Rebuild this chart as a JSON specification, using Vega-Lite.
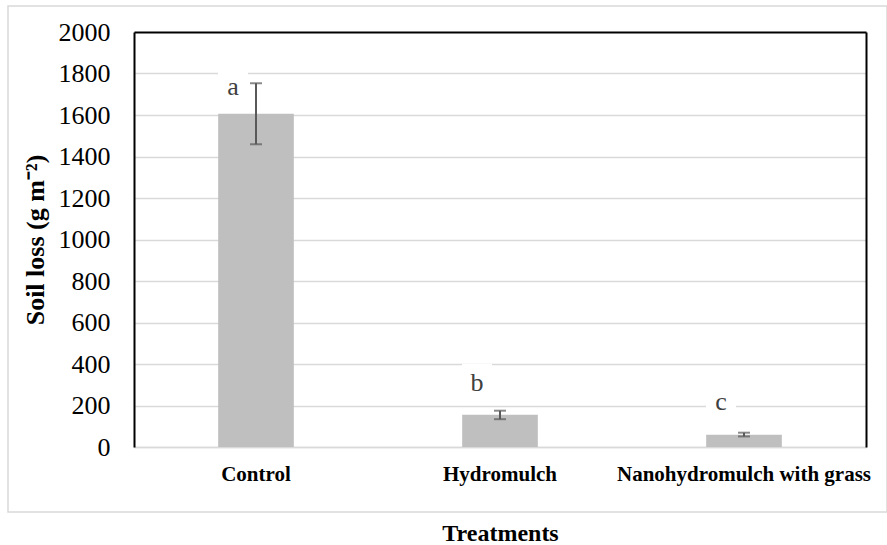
{
  "$schema": "https://vega.github.io/schema/vega-lite/v6.json",
  "width": 879,
  "height": 506,
  "autosize": {"type": "none"},
  "padding": {"left": 8, "top": 6, "right": 0, "bottom": 33},
  "background": "white",
  "config": {
    "font": "Liberation Serif",
    "view": {"stroke": "#d9d9d9", "strokeWidth": 1.5},
    "axis": {"labelFont": "Liberation Serif", "titleFont": "Liberation Serif", "labelColor": "#000000", "titleColor": "#000000"}
  },
  "data": {
    "values": [
      {"treatment": "Control", "mean": 1606, "lo": 1459, "hi": 1753, "letter": "a", "letter_y": 1696},
      {"treatment": "Hydromulch", "mean": 155, "lo": 134, "hi": 175, "letter": "b", "letter_y": 271},
      {"treatment": "Nanohydromulch with grass", "mean": 59, "lo": 51, "hi": 69, "letter": "c", "letter_y": 178}
    ]
  },
  "layer": [
    {
      "mark": {"type": "bar", "color": "#bfbfbf"},
      "encoding": {
        "x": {
          "field": "treatment", "type": "nominal", "sort": null,
          "scale": {"range": [126, 858], "paddingInner": 0.69, "paddingOuter": 0.345},
          "axis": {
            "orient": "bottom", "offset": -65, "title": "Treatments", "labelAngle": 0,
            "ticks": false, "domainColor": "#d9d9d9", "domainWidth": 1.5, "grid": false,
            "labelFontSize": 21, "labelFontWeight": "bold", "labelPadding": 16, "labelLimit": 0,
            "titleFontSize": 24, "titleFontWeight": "bold", "titlePadding": 37
          }
        },
        "y": {
          "field": "mean", "type": "quantitative",
          "scale": {"domain": [0, 2000], "range": [441, 26], "nice": false},
          "axis": {
            "orient": "left", "offset": -126, "format": "d",
            "values": [0, 200, 400, 600, 800, 1000, 1200, 1400, 1600, 1800, 2000],
            "title": "Soil loss (g m⁻²)", "ticks": false, "tickSize": 0, "labelPadding": 24,
            "labelFontSize": 26, "domainColor": "#000000", "domainWidth": 2,
            "grid": true,
            "gridColor": {"condition": {"test": "datum.value === 2000", "value": "#000000"}, "value": "#d9d9d9"},
            "gridWidth": {"condition": {"test": "datum.value === 2000", "value": 2}, "value": 1.5},
            "titleFontSize": 26, "titleFontWeight": "bold", "titlePadding": 10
          }
        }
      }
    },
    {
      "mark": {"type": "rule", "color": "#595959", "strokeWidth": 2},
      "encoding": {
        "x": {"field": "treatment", "type": "nominal", "sort": null},
        "y": {
          "field": "lo", "type": "quantitative",
          "axis": {"orient": "right", "offset": -21, "labels": false, "ticks": false, "grid": false, "title": null, "domainColor": "#000000", "domainWidth": 2}
        },
        "y2": {"field": "hi"}
      }
    },
    {
      "mark": {"type": "tick", "color": "#595959", "thickness": 2, "size": 12},
      "encoding": {
        "x": {"field": "treatment", "type": "nominal", "sort": null},
        "y": {"field": "lo", "type": "quantitative", "axis": null}
      }
    },
    {
      "mark": {"type": "tick", "color": "#595959", "thickness": 2, "size": 12},
      "encoding": {
        "x": {"field": "treatment", "type": "nominal", "sort": null},
        "y": {"field": "hi", "type": "quantitative", "axis": null}
      }
    },
    {
      "mark": {"type": "point", "shape": "square", "filled": true, "color": "white", "opacity": 1, "size": 900, "strokeWidth": 0, "xOffset": -23, "yOffset": -12},
      "encoding": {
        "x": {"field": "treatment", "type": "nominal", "sort": null},
        "y": {"field": "letter_y", "type": "quantitative", "axis": null}
      }
    },
    {
      "mark": {"type": "text", "font": "Liberation Serif", "fontSize": 26, "color": "#404040", "baseline": "alphabetic", "align": "center", "xOffset": -23},
      "encoding": {
        "x": {"field": "treatment", "type": "nominal", "sort": null},
        "y": {"field": "letter_y", "type": "quantitative", "axis": null},
        "text": {"field": "letter"}
      }
    }
  ],
  "resolve": {"axis": {"y": "independent"}}
}
